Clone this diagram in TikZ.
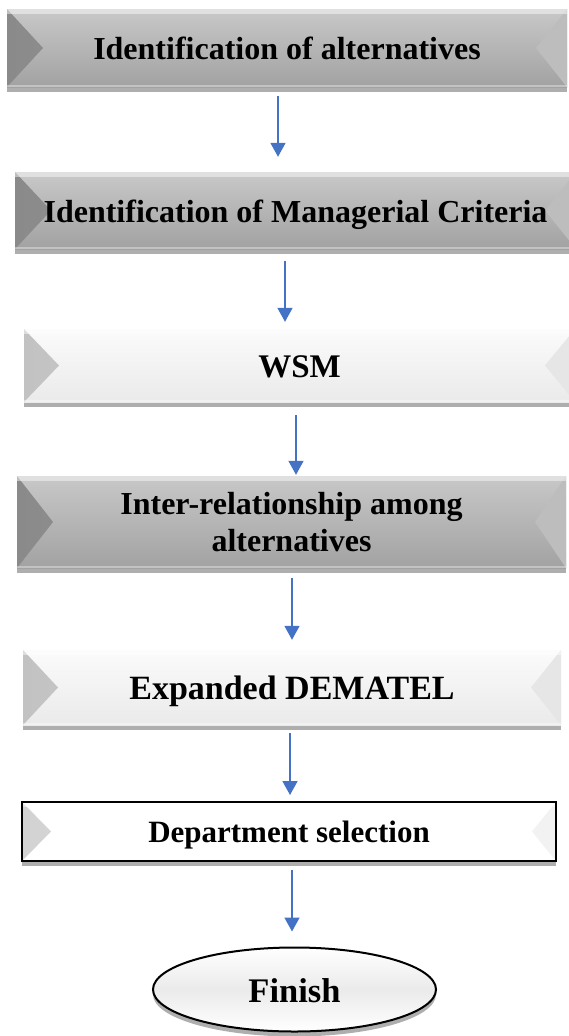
\documentclass[tikz,border=0pt]{standalone}
\usepackage{fontspec}
\setmainfont{Liberation Serif}
\usetikzlibrary{shapes.geometric,shadows,arrows.meta}
\definecolor{arrowblue}{HTML}{4472C4}
\definecolor{dkTop}{HTML}{C8C8C8}
\definecolor{dkBot}{HTML}{A2A2A2}
\definecolor{dkL}{HTML}{8A8A8A}
\definecolor{dkM}{HTML}{ABABAB}
\definecolor{dkR}{HTML}{BDBDBD}
\definecolor{ltTop}{HTML}{FBFBFB}
\definecolor{ltBot}{HTML}{EAEAEA}
\definecolor{ltL}{HTML}{C2C2C2}
\definecolor{ltM}{HTML}{E2E2E2}
\definecolor{ltR}{HTML}{E6E6E6}
\definecolor{wL}{HTML}{D2D2D2}
\definecolor{wM}{HTML}{F6F6F6}
\definecolor{wR}{HTML}{F2F2F2}
\begin{document}
\begin{tikzpicture}[x=1pt,y=-1pt,
  bevel/.style n args={5}{path picture={
    \shade[left color=#1, right color=#2] (path picture bounding box.north west) -- ([xshift=#4]path picture bounding box.west) -- (path picture bounding box.south west) -- cycle;
    \fill[#3] (path picture bounding box.north east) -- ([xshift=-#5]path picture bounding box.east) -- (path picture bounding box.south east) -- cycle;
    \fill[white, opacity=0.45] (path picture bounding box.north west) rectangle ([yshift=-5pt]path picture bounding box.north east);
    \fill[white, opacity=0.35] (path picture bounding box.south west) rectangle ([yshift=2pt]path picture bounding box.south east);
  }},
  shadowed/.style={drop shadow={shadow xshift=0pt, shadow yshift=-5pt, opacity=0.45, fill=black!70}},
  box/.style={rectangle, inner sep=0pt, align=center, shadowed},
  darkbox/.style={box, top color=dkTop, bottom color=dkBot, bevel={dkL}{dkM}{dkR}{36pt}{31pt}},
  lightbox/.style={box, top color=ltTop, bottom color=ltBot, bevel={ltL}{ltM}{ltR}{35pt}{30pt}},
  whitebox/.style={box, fill=white, draw=black, line width=2pt, bevel={wL}{wM}{wR}{29pt}{24pt}},
  flow/.style={draw=arrowblue, line width=1.6pt, -{Triangle[width=15pt,length=14pt]}},
  txt/.style={font=\bfseries\fontsize{#1}{#1}\selectfont}
]
\useasboundingbox (0,0) rectangle (569,1036);

\node[darkbox, txt=32, text height=23pt, text depth=0pt, minimum width=560pt, minimum height=78pt] (b1) at (287,48) {Identification of alternatives};
\node[darkbox, txt=32, text height=23pt, text depth=0pt, minimum width=561pt, minimum height=77pt] (b2) at (295.5,210.5) {Identification of Managerial Criteria};
\node[lightbox, txt=33, text height=23.5pt, text depth=0pt, minimum width=551pt, minimum height=73pt] (b3) at (299.5,365.5) {WSM};
\node[darkbox, font=\bfseries\fontsize{32}{37}\selectfont, minimum width=549pt, minimum height=92pt] (b4) at (291.5,522) {Inter-relationship among\\alternatives};
\node[lightbox, txt=34, text height=24.5pt, text depth=0pt, minimum width=538pt, minimum height=75pt] (b5) at (292,687.5) {Expanded DEMATEL};
\node[whitebox, txt=31, text height=22pt, text depth=0pt, minimum width=534pt, minimum height=59pt] (b6) at (289,831.5) {Department selection};
\node[ellipse, draw=black, line width=2pt, inner sep=0pt, top color=white, bottom color=white, middle color=black!8,
  shadowed, txt=34.5, text height=25pt, text depth=0pt,
  minimum width=283pt, minimum height=84pt] (fin) at (294.5,989.5) {Finish};

\coordinate (x1) at (278,0);
\coordinate (x2) at (285,0);
\coordinate (x3) at (296,0);
\coordinate (x4) at (292,0);
\coordinate (x5) at (290,0);
\coordinate (x6) at (292,0);

\draw[flow, shorten <=9pt, shorten >=15pt] (b1.south -| x1) -- (b2.north -| x1);
\draw[flow, shorten <=12pt, shorten >=7pt] (b2.south -| x2) -- (b3.north -| x2);
\draw[flow, shorten <=13pt, shorten >=1pt] (b3.south -| x3) -- (b4.north -| x3);
\draw[flow, shorten <=10pt, shorten >=10pt] (b4.south -| x4) -- (b5.north -| x4);
\draw[flow, shorten <=8pt, shorten >=6pt] (b5.south -| x5) -- (b6.north -| x5);
\draw[flow, shorten <=8pt, shorten >=15pt] (b6.south -| x6) -- (fin.north -| x6);
\end{tikzpicture}
\end{document}
